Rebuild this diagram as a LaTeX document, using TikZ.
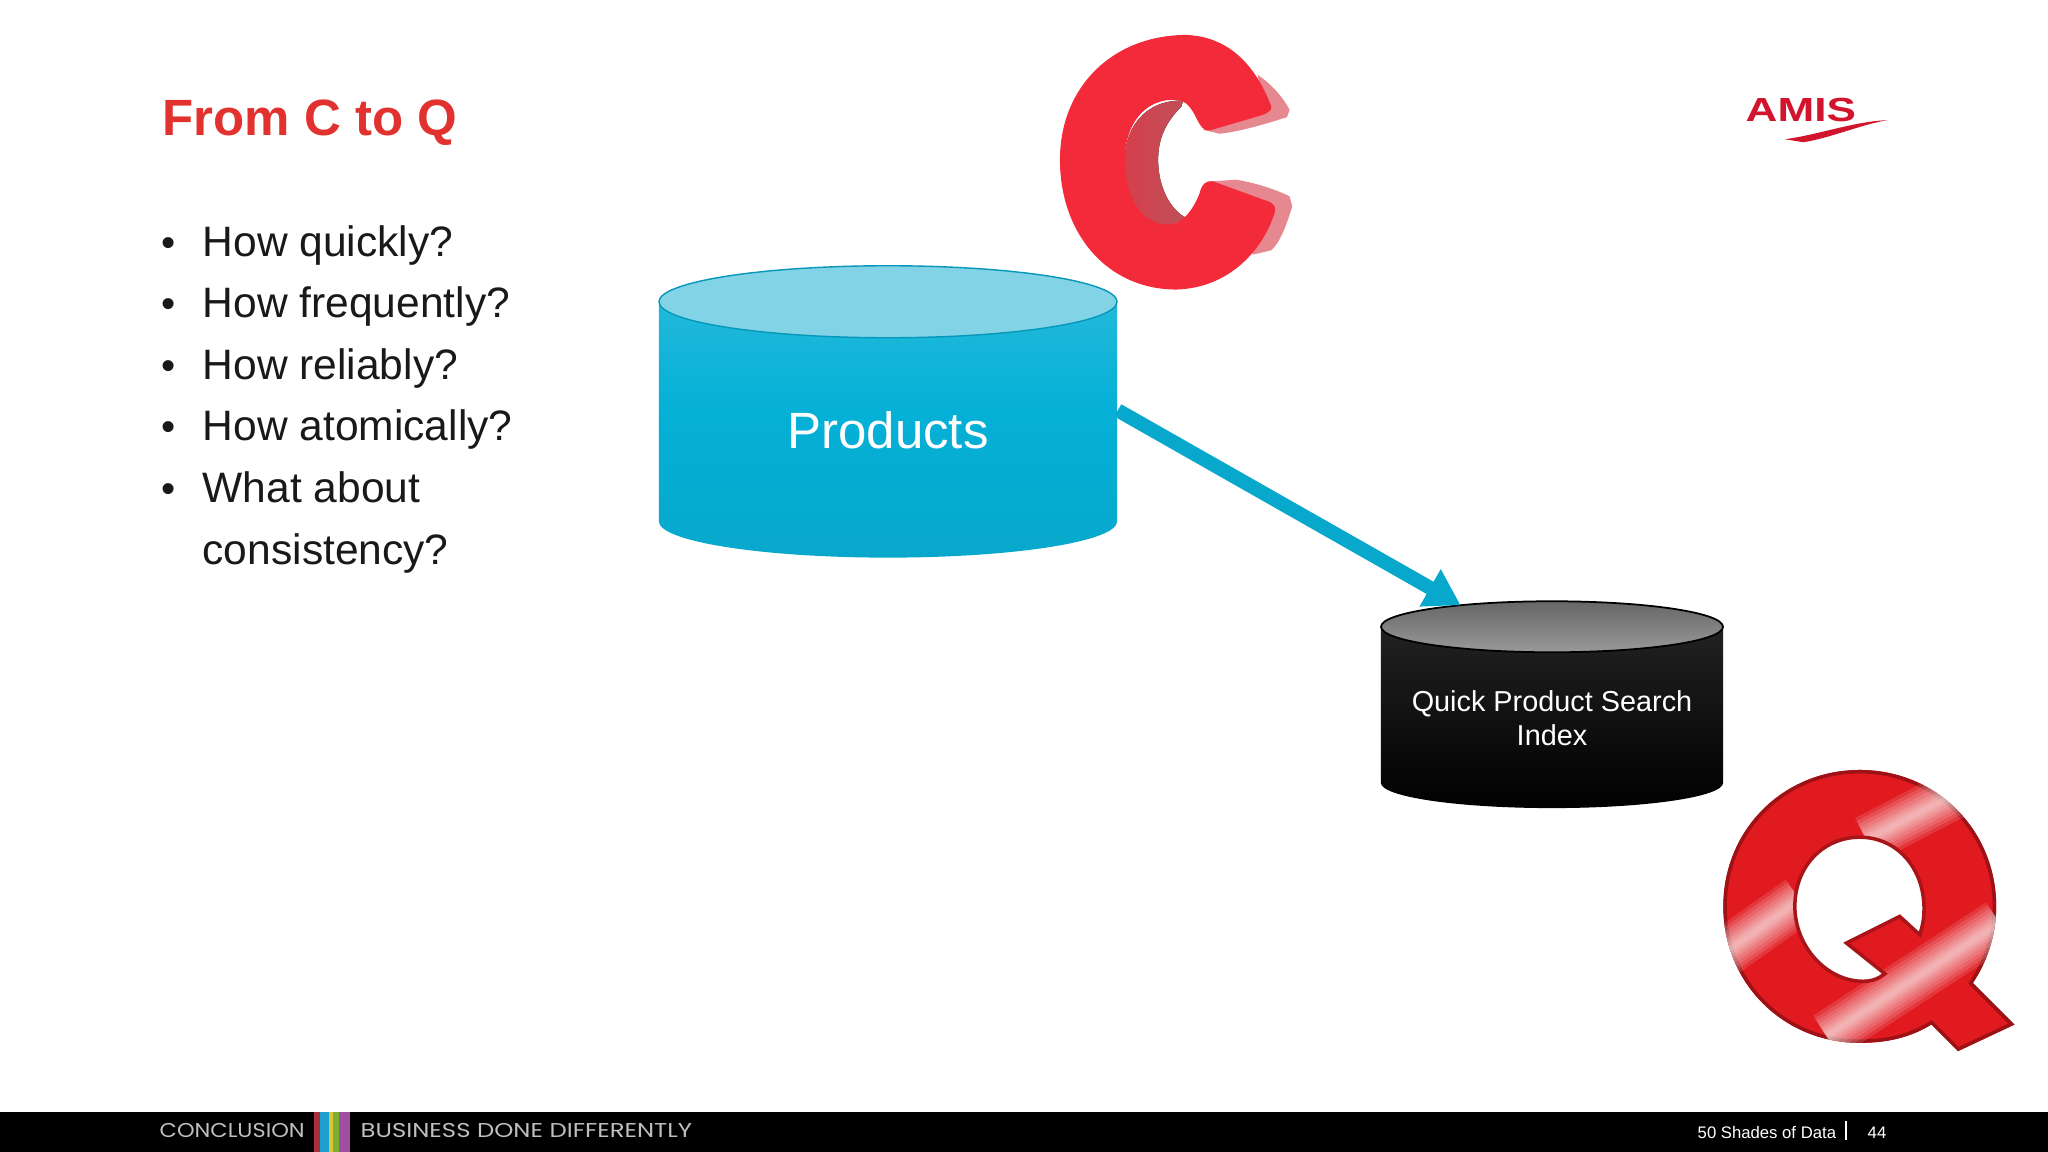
\documentclass[tikz,border=0pt]{standalone}
\usepackage{fontspec}
\setmainfont{Liberation Sans}
\newfontfamily\footfont{Poppins}
\usetikzlibrary{shapes.geometric,arrows.meta,calc}
\definecolor{titlered}{HTML}{E2322F}
\definecolor{flowblue}{HTML}{08A8CC}
\definecolor{prodblue}{HTML}{05B0D6}
\definecolor{logored}{HTML}{D2142C}
\definecolor{letterc}{HTML}{F22A3A}
\definecolor{letterq}{HTML}{E01A1F}
\tikzstyle{titletext}=[anchor=base west,inner sep=0pt,text=titlered,font=\fontsize{14.5}{17}\selectfont\bfseries]
\tikzstyle{bodytext}=[anchor=base west,inner sep=0pt,text=black!90,font=\fontsize{12.1}{14}\selectfont]
\tikzstyle{bullettext}=[anchor=base west,inner sep=0pt,text=black!90,font=\fontsize{11.5}{14}\selectfont]
\tikzstyle{foottext}=[anchor=base west,inner sep=0pt,text=white,font=\fontsize{4.75}{6}\selectfont]
\tikzstyle{bandtext}=[anchor=base west,inner sep=0pt,text=black!25,font=\footfont\fontsize{5.7}{7}\selectfont]
\tikzstyle{dbbig}=[cylinder,shape border rotate=90,shape aspect=0.36,minimum width=4.58cm,minimum height=2.91cm,inner sep=0pt,
  draw=none,top color=prodblue!85!white,bottom color=flowblue,middle color=prodblue,text=white,align=center,font=\fontsize{14.5}{17}\selectfont]
\tikzstyle{dbsmall}=[cylinder,shape border rotate=90,shape aspect=0.18,minimum width=3.42cm,minimum height=2.06cm,inner sep=0pt,
  draw=none,top color=black!85,bottom color=black,text=white,align=center,font=\fontsize{8.2}{9.7}\selectfont]
\tikzstyle{flow}=[draw=flowblue,line width=4pt,-{Triangle[length=10pt,width=11.5pt]}]
\def\qouter{(480,60) .. controls (710,60) and (890,240) .. (890,470)
    .. controls (890,560) and (860,640) .. (820,700) -- (945,825) -- (775,905) -- (695,825)
    .. controls (630,865) and (560,880) .. (480,880)
    .. controls (250,880) and (70,700) .. (70,470)
    .. controls (70,240) and (250,60) .. (480,60) -- cycle}
\begin{document}
\begin{tikzpicture}[x=0.01cm,y=-0.01cm]
    \useasboundingbox (0,0) rectangle (2048,1152);
    \fill[white] (0,0) rectangle (2048,1152);
    % footer band
    \fill[black] (0,1112) rectangle (2048,1152);
    \foreach \xa/\xb/\col in {314/320/A83038,320/329/1F9FD0,329/333/D8C43A,333/339/7AB030,339/350/A04EA0}
    {
        \definecolor{stripe}{HTML}{\col}
        \fill[stripe] (\xa,1112) rectangle (\xb,1152);
    }
    \node[bandtext] (section) at (159,1137) {\scalebox{1.12}[1]{CONCLUSION}};
    \node[bandtext] (claim) at (360,1137) {\scalebox{1.215}[1]{BUSINESS DONE DIFFERENTLY}};
    \node[foottext] (event) at (1697,1138) {50 Shades of Data};
    \node[foottext] (page) at (1867,1138) {44};
    \draw[white,line width=0.5pt] (1846,1121) -- (1846,1140);

    \node[titletext] (title) at (162,136) {From C to Q};
    \foreach \i/\ypos/\txt in {1/257/How quickly?,2/318/How frequently?,3/380/How reliably?,4/441/How atomically?,5/502/What about}
    {
        \node[bodytext] (q\i) at (202,\ypos) {\txt};
        \node[bullettext] (b\i) at (161,\ypos) {•};
    }
    \node[bodytext] (q6) at (202,564) {consistency?};

    % letter C, coordinates of the crop
    \begin{scope}[shift={(1030,10)},x=0.00333cm,y=-0.00333cm]
        \fill[letterc!55!white!85!gray] (684,195) .. controls (730,225) and (765,270) .. (780,300) -- (772,322)
            .. controls (700,345) and (630,365) .. (570,372) -- (520,360) -- (700,280) -- cycle;
        \fill[letterc!55!white!85!gray] (540,515) -- (620,510) .. controls (680,520) and (740,540) .. (780,560)
            -- (788,590) .. controls (770,650) and (750,700) .. (725,722) -- (670,735) -- cycle;
        \fill[left color=letterc!75!gray,right color=letterc!55!gray] (460,272) .. controls (340,270) and (285,360) .. (285,450)
            .. controls (285,560) and (330,650) .. (410,650) -- (470,625)
            .. controls (420,600) and (385,530) .. (385,450) .. controls (385,390) and (405,340) .. (455,290) -- cycle;
        \fill[letterc] (725,290) .. controls (728,300) and (715,310) .. (700,315) -- (540,362)
            .. controls (520,365) and (510,345) .. (500,325) .. controls (485,295) and (470,272) .. (440,270)
            .. controls (340,265) and (285,350) .. (285,450) .. controls (285,560) and (330,640) .. (410,645)
            .. controls (460,645) and (490,600) .. (510,550) .. controls (515,525) and (530,510) .. (550,515)
            -- (715,575) .. controls (735,582) and (740,595) .. (735,610)
            .. controls (700,720) and (600,835) .. (440,840)
            .. controls (230,840) and (90,670) .. (90,450)
            .. controls (90,230) and (250,75) .. (470,75)
            .. controls (600,80) and (680,170) .. (725,290) -- cycle;
    \end{scope}

    % letter Q, coordinates of the crop
    \begin{scope}[shift={(1700,750)},x=0.00333cm,y=-0.00333cm]
        \begin{scope}
            \clip \qouter;
            \fill[letterq] (0,0) rectangle (1020,960);
            \draw[letterq!70!black,line width=2pt] \qouter;
            \foreach \wid in {14,12,10,8,6,4.5,3,1.5}
            {
                \draw[white,line width=\wid pt,opacity=0.13] (60,620) -- (300,450);
                \draw[white,line width=\wid pt,opacity=0.13] (500,270) -- (770,130);
                \draw[white,line width=\wid pt,opacity=0.13] (380,860) -- (900,520);
            }
        \end{scope}
        \fill[white,draw=letterq!75!black,line width=1pt] (600,500) -- (660,555)
            .. controls (680,500) and (675,440) .. (660,395)
            .. controls (630,310) and (560,262) .. (480,262)
            .. controls (370,262) and (285,350) .. (285,470)
            .. controls (285,590) and (380,695) .. (490,695)
            .. controls (520,695) and (540,685) .. (555,672) -- (440,580) -- cycle;
    \end{scope}

    % logo
    \node[anchor=base west,inner sep=0pt,text=logored,font=\fontsize{9.5}{11}\selectfont\bfseries] (logo) at (1745,122) {\scalebox{1.32}[1]{AMIS}};
    \begin{scope}[shift={(1720,80)},x=0.00333cm,y=-0.00333cm]
        \fill[logored] (195,178) .. controls (290,165) and (370,135) .. (470,123) -- (505,120)
            .. controls (420,135) and (330,175) .. (250,187) -- cycle;
    \end{scope}

    % databases
    \node[dbbig] (products) at (888,430.5) {Products};
    \fill[fill=flowblue!50!white,draw=flowblue!90!black,line width=0.4pt] ($(products.north)+(0,36)$) ellipse (229 and 36);
    \node[dbsmall] (index) at (1552,718) {Quick Product Search\\Index};
    \shade[top color=black!60,bottom color=black!40,draw=black,line width=0.5pt] ($(index.north)+(0,25.5)$) ellipse (171 and 25.5);

    \draw[flow] (products.5) -- (index.129);
\end{tikzpicture}
\end{document}
